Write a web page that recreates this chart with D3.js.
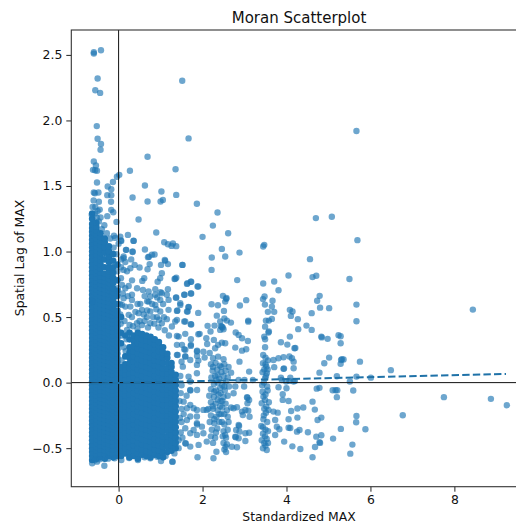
<!DOCTYPE html>
<html><head><meta charset="utf-8">
<script src="https://cdn.jsdelivr.net/npm/d3@7"></script>
<style>html,body{margin:0;padding:0;background:#fff;overflow:hidden}svg{display:block}text{font-family:"DejaVu Sans",sans-serif;fill:#111}</style>
</head><body><svg id="c" width="516" height="525"></svg>
<script>
const titleText="Moran Scatterplot", xLabel="Standardized MAX", yLabel="Spatial Lag of MAX";
const xTicks=[0,2,4,6,8], yTicks=[-0.5,0,0.5,1,1.5,2,2.5];
const regression=[[-0.65,-0.007],[9.23,0.066]];
// Individually readable points (standardized value, spatial lag)
const upperPoints=[[-.59,2.52],[-.59,2.51],[-.42,2.535],[-.5,2.32],[-.555,2.23],[-.44,2.21],[-.52,1.957],[-.5,1.86],[-.42,1.82],[-.43,1.776],[-.59,1.687],[-.54,1.656],[-.61,1.623],[-.515,1.616],[-.56,1.62],[-.515,1.527],[-.59,1.45],[-.48,1.45],[-.565,1.445],[-.595,1.39],[-.47,1.38],[-.555,1.34],[-.45,1.32],[-.5,1.31],[-.175,1.476],[-.26,1.496],[-.135,1.53],[-.04,1.57],[.016,1.585],[-.27,1.43],[-.175,1.43],[-.18,1.38],[-.175,1.318],[-.127,1.3],[-.27,1.27],[-.05,1.226],[.27,1.616],[.627,1.504],[.69,1.723],[.333,1.412],[.69,1.382],[1.02,1.458],[1,1.382],[1.055,1.394],[1.357,1.628],[1.373,1.432],[1.865,1.364],[1.516,2.303],[1.667,1.863],[2.357,1.298],[2.246,1.198],[2.61,1.14],[2,1.112],[.476,1.244],[.897,1.145],[.222,1.127],[.04,1.114],[-.08,1.104],[.063,1.081],[.357,1.081],[.175,1.013],[.333,.997],[.627,1.015],[1.087,1.071],[1.175,1.056],[1.294,1.061],[1.262,1.043],[1.373,1.041],[.857,.977],[.794,.975],[.722,.96],[2.46,1.02],[2.54,.962],[2.22,.954],[2.88,.992],[1.1,.936],[.119,.962],[.06,.94],[5.667,1.919],[4.7,1.255],[5.08,1.265],[5.69,1.087],[3.47,1.051],[3.445,1.038],[4.56,.942]];
const midPoints=[[1.524,.898],[2.215,.86],[1.333,.79],[1.374,.8],[1.63,.753],[1.73,.769],[1.897,.733],[2.826,.782],[3.445,.756],[3.707,.771],[4.048,.817],[3.81,.705],[1.564,.67],[1.73,.68],[1.366,.647],[1.469,.606],[1.667,.578],[1.39,.547],[1.4,.55],[1.63,.542],[1.897,.532],[2.486,.662],[2.564,.639],[2.57,.645],[2.54,.618],[2.215,.598],[2.366,.59],[2.89,.588],[3.04,.629],[2.51,.547],[2.34,.511],[2.52,.49],[2.42,.466],[2.58,.473],[2.676,.458],[2.12,.433],[2.286,.435],[2.46,.427],[2.48,.42],[2.44,.43],[3.088,.473],[3.09,.465],[3.44,.637],[3.477,.657],[3.486,.595],[3.667,.624],[3.652,.58],[3.557,.54],[3.707,.54],[4.08,.555],[4.143,.542],[4.105,.509],[4.27,.484],[3.652,.486],[3.58,.473],[3.51,.473],[3.49,.427],[4.62,.805],[4.71,.815],[5.5,.79],[4.79,.662],[4.73,.624],[4.8,.572],[5.016,.568],[5.667,.595],[4.6,.53],[4.476,.435],[4.6,.402],[4.28,.408],[3.57,.382],[3.58,.39],[3.49,.331],[3.47,.35],[4.08,.351],[3.867,.308],[4.02,.29],[3.49,.27],[4.19,.262],[4.21,.264],[4.83,.351],[4.84,.345],[4.98,.334],[5.24,.362],[5.29,.354],[5.29,.3],[5.667,.468]];
const lowerRightPoints=[[3.445,.211],[3.69,.173],[3.81,.186],[3.93,.193],[4.07,.199],[4.13,.186],[4.17,.16],[4.17,.11],[3.93,.105],[3.94,.108],[3.707,.118],[3.52,.122],[3.44,.148],[3.53,.072],[3.49,.034],[4.9,.148],[5.016,.191],[5.3,.173],[5.32,.178],[5.36,.176],[5.29,.143],[5.75,.16],[4.786,.076],[6.486,.095],[5.2,.049],[5.667,.046],[6.01,.038],[5.51,.008],[3.867,.038],[3.89,.02],[4.09,.038],[4.07,.013],[4.17,.008],[4.2,.013],[3.99,.008],[4,-.043],[3.81,-.035],[3.91,-.089],[3.91,-.132],[4.05,-.14],[4.72,-.046],[4.786,-.04],[5.1,-.058],[5.17,-.058],[5.21,-.058],[5.59,-.06],[5.2,-.111],[4.62,-.145],[4.675,-.206],[4.4,-.19],[4.26,-.198],[4.11,-.216],[4.26,-.267],[4.05,-.28],[4.83,-.267],[4.74,-.285],[5.667,-.254],[5.66,-.302],[5.295,-.353],[5.88,-.356],[6.77,-.249],[7.75,-.111],[8.44,.557],[8.87,-.124],[9.25,-.173],[4.31,-.361],[4.25,-.374],[4.05,-.344],[4.09,-.346],[4.51,-.379],[4.71,-.412],[4.83,-.402],[5.11,-.427],[4.786,-.455],[4.8,-.46],[4.68,-.491],[5.57,-.473],[5.52,-.542],[4.62,-.569],[3.945,-.45],[4.14,-.486],[4.33,-.506],[3.73,-.4],[3.77,-.336],[3.83,-.356],[3.73,-.285],[3.79,-.229],[3.69,-.221],[3.57,-.208],[3.52,-.183],[3.53,-.514],[3.44,-.501],[3.45,-.107],[3.49,-.132],[3.41,-.157],[3.45,-.28],[3.54,-.3],[3.4,-.33],[3.5,-.36],[3.56,-.37],[3.44,-.39],[3.53,-.43],[3.41,-.44],[3.47,-.46],[3.46,-.25],[3.55,-.06],[3.42,-.02],[3.5,-.09],[3.58,-.15],[3.43,.08],[3.56,.17],[3.5,.19],[3.47,.1],[3.51,.05],[3.46,0],[3.54,-.03],[3.47,-.2],[3.51,-.23],[3.44,-.34],[3.49,-.41],[3.56,-.46],[3.5,-.48],[3.43,-.07],[3.55,.1],[3.5,.14]];
const columnPoints=[[2.19,.39],[2.09,.339],[2.11,.295],[2.27,.326],[2.42,.402],[2.5,.407],[2.54,.3],[2.46,.305],[2.37,.288],[2.3,.262],[2.17,.226],[2.02,.236],[1.87,.244],[2.05,.191],[1.87,.204],[1.9,.168],[2.25,.186],[2.37,.198],[2.5,.179],[2.88,.16],[2.78,.267],[2.94,.244],[3.04,.255],[2.94,.339],[3.08,.318],[2.79,.382],[2.86,.364],[2.68,.076],[3.11,.084],[2.2,.14],[2.31,.15],[2.41,.13],[2.52,.14],[2.62,.12],[2.24,.09],[2.35,.1],[2.45,.08],[2.55,.09],[2.21,.04],[2.3,.05],[2.4,.03],[2.5,.05],[2.6,.04],[2.27,-.01],[2.36,0],[2.47,-.02],[2.56,.01],[2.2,-.05],[2.32,-.06],[2.42,-.04],[2.53,-.06],[2.63,-.03],[2.16,-.1],[2.27,-.11],[2.38,-.09],[2.5,-.11],[2.6,-.1],[2.2,-.15],[2.31,-.16],[2.43,-.14],[2.55,-.16],[2.14,-.2],[2.25,-.2],[2.36,-.21],[2.47,-.19],[2.58,-.21],[2.68,-.19],[2.2,-.25],[2.33,-.26],[2.45,-.24],[2.6,-.26],[2.17,-.3],[2.28,-.31],[2.4,-.3],[2.52,-.32],[2.62,-.3],[2.22,-.36],[2.35,-.35],[2.5,-.37],[2.6,-.36],[2.2,-.41],[2.3,-.42],[2.48,-.41],[2.56,-.42],[2.25,-.46],[2.5,-.46],[2.58,-.47],[2.52,-.51],[2.56,-.53],[2.74,-.081],[2.78,-.03],[2.86,.02],[3,.02],[3.2,.02],[2.99,-.03],[3.06,-.111],[3.07,-.115],[3.11,-.132],[3.07,-.157],[2.74,-.195],[2.82,-.188],[2.94,-.221],[3.02,-.208],[3.09,-.214],[3.12,-.26],[2.96,-.247],[2.86,-.323],[2.87,-.33],[2.8,-.361],[2.88,-.374],[3.02,-.386],[3.11,-.382],[2.78,-.412],[2.79,-.417],[2.86,-.424],[3.02,-.445],[2.7,-.489],[2.82,-.493],[2.26,-.577],[1.88,-.569],[2.33,-.527],[1.286,-.603],[1.706,-.056],[1.71,-.06],[1.87,-.056],[1.55,-.145],[1.707,-.17],[1.787,-.196],[1.628,-.196],[1.866,-.208],[2.02,-.208],[2.1,-.208],[1.707,-.259],[1.866,-.259],[1.628,-.285],[1.866,-.31],[1.87,-.32],[1.985,-.336],[1.588,-.348],[1.787,-.361],[1.707,-.386],[1.866,-.399],[2.02,-.386],[1.588,-.463],[1.6,-.465],[1.707,-.488],[1.906,-.475],[2.1,-.45],[1.588,.372],[1.93,.372],[1.723,.331],[1.723,.288],[1.564,.255],[1.39,.288],[1.406,.211],[1.588,.199],[1.707,.173],[1.866,.135],[1.667,.046],[1.866,.072],[1.707,.008],[1.53,.122],[1.43,.351],[1.73,.443],[1.564,.466],[1.35,.466],[1.5,-.02],[1.48,-.08],[1.55,-.24],[1.5,-.3],[1.48,-.38],[1.52,-.42],[1.5,-.2],[1.47,.05],[1.5,.16],[2.25,.12],[2.36,.06],[2.45,.12],[2.33,.02],[2.43,-.08],[2.28,-.07],[2.52,-.03],[2.36,-.13],[2.47,-.14],[2.24,-.18],[2.4,-.24],[2.52,-.24],[2.28,-.28],[2.46,-.3],[2.32,-.38],[2.54,-.4],[2.55,-.49],[2.42,-.18],[1.62,-.1],[1.45,-.14],[1.46,-.27],[1.43,-.44],[1.43,-.5]];
const clumpPoints=[[.056,1.084],[.358,1.082],[.183,1.013],[.334,1],[.12,.95],[.7,.957],[.74,.904],[.69,.865],[.382,.898],[.5,.878],[.279,.873],[.12,.86],[1.11,.929],[1.175,.904],[1.01,.898],[1.517,.898],[1.03,.835],[.99,.797],[.93,.77],[1.35,.792],[.61,.797],[.564,.776],[.24,.738],[.056,.797],[.08,.746],[1.64,.758],[1.72,.77],[1.88,.733],[1.57,.67],[1.72,.68],[1.374,.65],[.58,.707],[.715,.695],[.874,.713],[1.03,.682],[1.175,.713],[.755,.657],[.874,.67],[1.15,.67],[.318,.67],[.12,.644],[.318,.631],[.08,.593],[.517,.601],[.715,.618],[.874,.593],[.993,.631],[1.19,.631],[1.47,.593],[1.667,.575],[1.644,.542],[.556,.555],[.755,.542],[.993,.542],[1.19,.555],[.24,.517],[.477,.53],[.318,.5],[.675,.5],[.913,.5],[1.15,.484],[1.39,.479],[1.588,.466],[1.72,.446],[.437,.453],[.755,.453],[1.03,.453],[1.27,.428],[.2,.402],[.556,.44],[1.9,.369],[1.39,.356],[1.72,.28],[1.51,.288],[1.866,.237],[1.59,.25],[1.39,.212],[1.59,.2],[.62,.47],[.85,.45],[.95,.42],[.7,.42],[.45,.41],[.34,.43],[1.1,.4],[1.2,.36],[.05,.45],[.08,.36],[.12,.27],[.19,.33],[.17,.24],[.07,.17],[.03,.6],[-.02,.72],[-.03,.85],[-.05,.98],[-.12,1.03],[-.2,1.1],[-.28,1.14],[-.34,1.2],[-.43,1.26],[-.62,.62],[-.62,1.34],[-.64,1.28],[-.56,1.29],[-.52,1.26],[-.47,1.23],[-.4,1.17],[-.11,1.12],[.0,1.06],[-.63,-.615],[-.515,-.603],[-.34,-.634],[-.095,-.577],[.064,-.59],[.46,-.59],[.755,-.577],[1.01,-.598],[1.28,-.603],[-.56,-.59],[-.45,-.585],[-.25,-.58],[.25,-.575],[.62,-.57],[.92,-.565],[1.12,-.56],[1.33,-.54],[.62,.66],[.68,.62],[.8,.6],[.92,.65],[1.06,.6],[.6,.52],[.68,.55],[.82,.5],[.96,.48],[1.08,.5],[.5,.47],[.9,.56],[1.0,.69],[.45,.6],[.16,.58],[.22,.66],[.28,.58],[.4,.54],[.14,.47],[.26,.44],[.16,.72],[.2,.85],[.32,.78],[.44,.72],[.1,.68],[.04,.52],[.06,.88],[.16,.92],[.3,.94]];
// Solid core of the cloud, where single points cannot be told apart: estimated per vertical strip
const coreX=[-.63,-.53,-.43,-.33,-.23,-.13,-.03,.06,.16,.26,.36,.46,.56,.66,.76,.86,.96,1.06,1.16,1.26,1.36];
const coreY=[
[-.59,-.56,-.53,-.5,-.47,-.44,-.41,-.38,-.35,-.32,-.29,-.26,-.23,-.2,-.17,-.14,-.11,-.08,-.05,-.02,.01,.04,.07,.1,.13,.16,.19,.22,.25,.28,.31,.34,.37,.4,.43,.46,.49,.52,.55,.58,.61,.64,.67,.7,.73,.76,.79,.82,.85,.88,.91,.94,.97,1,1.03,1.06,1.09,1.12,1.15,1.18,1.21,1.25,1.29],
[-.58,-.55,-.52,-.49,-.46,-.43,-.4,-.37,-.34,-.31,-.28,-.25,-.22,-.19,-.16,-.13,-.1,-.07,-.04,-.01,.02,.05,.08,.11,.14,.17,.2,.23,.26,.29,.32,.35,.38,.41,.44,.47,.5,.53,.56,.59,.62,.65,.68,.71,.74,.77,.8,.83,.86,.89,.92,.95,.98,1.01,1.04,1.07,1.1,1.13,1.16,1.19,1.22],
[-.57,-.54,-.51,-.48,-.45,-.42,-.39,-.36,-.33,-.3,-.27,-.24,-.21,-.18,-.15,-.12,-.09,-.06,-.03,0,.03,.06,.09,.12,.15,.18,.21,.24,.27,.3,.33,.36,.39,.42,.45,.48,.51,.54,.57,.6,.63,.66,.69,.72,.75,.78,.81,.84,.87,.9,.93,.96,.99,1.02,1.05,1.08,1.11,1.14],
[-.58,-.55,-.52,-.49,-.46,-.43,-.4,-.37,-.34,-.31,-.28,-.25,-.22,-.19,-.16,-.13,-.1,-.07,-.04,-.01,.02,.05,.08,.11,.14,.17,.2,.23,.26,.29,.32,.35,.38,.41,.44,.47,.5,.53,.56,.59,.62,.65,.68,.71,.74,.77,.8,.83,.88,.94,.99,1.03,1.07,1.1],
[-.56,-.53,-.5,-.47,-.44,-.41,-.38,-.35,-.32,-.29,-.26,-.23,-.2,-.17,-.14,-.11,-.08,-.05,-.02,.01,.04,.07,.1,.13,.16,.19,.22,.25,.28,.31,.34,.37,.4,.43,.46,.49,.52,.55,.58,.61,.64,.67,.7,.73,.76,.79,.82,.85,.88,.92,.96,1,1.04],
[-.57,-.54,-.51,-.48,-.45,-.42,-.39,-.36,-.33,-.3,-.27,-.24,-.21,-.18,-.15,-.12,-.09,-.06,-.03,0,.03,.06,.09,.12,.15,.18,.21,.24,.27,.3,.33,.36,.39,.42,.45,.48,.51,.54,.57,.6,.63,.66,.69,.72,.76,.8,.84,.88,.93,.98],
[-.56,-.53,-.5,-.47,-.44,-.41,-.38,-.35,-.32,-.29,-.26,-.23,-.2,-.17,-.14,-.11,-.08,-.05,-.02,.01,.04,.07,.1,.13,.16,.19,.22,.25,.28,.31,.34,.37,.4,.43,.46,.49,.52,.55,.6,.66,.7,.78,.9],
[-.56,-.52,-.48,-.44,-.4,-.36,-.32,-.28,-.24,-.2,-.16,-.12,-.08,-.04,0,.04,.08,.12,.3,.38,.5],
[-.54,-.5,-.46,-.42,-.38,-.34,-.3,-.26,-.22,-.18,-.14,-.1,-.06,-.02,.02,.06,.1,.14,.2,.36],
[-.57,-.53,-.49,-.45,-.41,-.37,-.33,-.29,-.25,-.21,-.17,-.13,-.09,-.05,-.01,.03,.07,.11,.15,.19,.23,.27,.33,.38],
[-.56,-.52,-.48,-.44,-.4,-.36,-.32,-.28,-.24,-.2,-.16,-.12,-.08,-.04,0,.04,.08,.12,.16,.2,.24,.28,.32,.36],
[-.58,-.54,-.5,-.46,-.42,-.38,-.34,-.3,-.26,-.22,-.18,-.14,-.1,-.06,-.02,.02,.06,.1,.14,.18,.22,.26,.3,.34,.38],
[-.55,-.51,-.47,-.43,-.39,-.35,-.31,-.27,-.23,-.19,-.15,-.11,-.07,-.03,.01,.05,.09,.13,.17,.21,.25,.29,.33,.37],
[-.56,-.52,-.48,-.44,-.4,-.36,-.32,-.28,-.24,-.2,-.16,-.12,-.08,-.04,0,.04,.08,.12,.16,.2,.24,.28,.32,.36],
[-.57,-.53,-.49,-.45,-.41,-.37,-.33,-.29,-.25,-.21,-.17,-.13,-.09,-.05,-.01,.03,.07,.11,.15,.19,.23,.27,.31,.35],
[-.55,-.51,-.47,-.43,-.39,-.35,-.31,-.27,-.23,-.19,-.15,-.11,-.07,-.03,.01,.05,.09,.13,.17,.21,.25,.29,.33],
[-.56,-.52,-.48,-.44,-.4,-.36,-.32,-.28,-.24,-.2,-.16,-.12,-.08,-.04,0,.04,.08,.12,.16,.2,.24,.28,.31],
[-.57,-.53,-.49,-.45,-.41,-.37,-.33,-.29,-.25,-.21,-.17,-.13,-.09,-.05,-.01,.03,.07,.11,.15,.19,.23,.27],
[-.53,-.49,-.45,-.41,-.37,-.33,-.29,-.25,-.21,-.17,-.13,-.09,-.05,-.01,.03,.07,.11,.15,.19,.22],
[-.52,-.48,-.44,-.4,-.36,-.32,-.28,-.24,-.2,-.16,-.12,-.08,-.04,0,.04,.08,.12,.15],
[-.5,-.46,-.42,-.38,-.34,-.3,-.26,-.22,-.18,-.14,-.1,-.06,-.02,.02,.06]
];
const W=516,H=525,pL=71.3,pR=527,pT=30,pB=486.7;
const x=d3.scaleLinear().domain([-1.127,9.73]).range([pL,pR]);
const y=d3.scaleLinear().domain([-0.794,2.69]).range([pB,pT]);
const svg=d3.select("#c");
svg.append("rect").attr("width",W).attr("height",H).attr("fill","#fff");
const core=coreX.flatMap((cx,i)=>coreY[i].map(v=>[cx,v]));
const sparse=[...upperPoints,...midPoints,...lowerRightPoints,...columnPoints,...clumpPoints];
const dots=svg.append("g");
dots.append("g").selectAll("circle").data(core).join("circle")
 .attr("cx",d=>x(d[0])).attr("cy",d=>y(d[1])).attr("r",3.3).attr("fill","#1f77b4");
dots.append("g").selectAll("circle").data(sparse).join("circle")
 .attr("cx",d=>x(d[0])).attr("cy",d=>y(d[1])).attr("r",3.2).attr("fill","#1f77b4").attr("opacity",0.65);
const ink="#222";
svg.append("line").attr("x1",pL).attr("x2",pR).attr("y1",y(0)).attr("y2",y(0)).attr("stroke","#111").attr("stroke-width",1);
svg.append("line").attr("x1",x(0)).attr("x2",x(0)).attr("y1",pT).attr("y2",pB).attr("stroke","#111").attr("stroke-width",1);
svg.append("path").datum(regression).attr("fill","none").attr("stroke","#1f72a8").attr("stroke-width",2).attr("stroke-dasharray","7.4 3.2")
 .attr("d",d3.line().x(d=>x(d[0])).y(d=>y(d[1])));
const fmt=v=>(v<0?"\u2212":"")+Math.abs(v).toFixed(1);
const gx=svg.append("g").attr("transform",`translate(0,${pB})`).call(d3.axisBottom(x).tickValues(xTicks).tickSize(5).tickPadding(4).tickFormat(d3.format("d")));
const gy=svg.append("g").attr("transform",`translate(${pL},0)`).call(d3.axisLeft(y).tickValues(yTicks).tickSize(5).tickPadding(4).tickFormat(fmt));
[gx,gy].forEach(g=>{g.select(".domain").remove();g.selectAll("line").attr("stroke",ink).attr("stroke-width",1);g.selectAll("text").attr("font-size",12.4).attr("font-family",'"DejaVu Sans",sans-serif').attr("fill","#111");});
svg.append("rect").attr("x",pL).attr("y",pT).attr("width",pR-pL).attr("height",pB-pT).attr("fill","none").attr("stroke","#333").attr("stroke-width",1.1);
svg.append("text").attr("x",299).attr("y",23).attr("text-anchor","middle").attr("font-size",15).text(titleText);
svg.append("text").attr("x",299).attr("y",521).attr("text-anchor","middle").attr("font-size",12.4).text(xLabel);
svg.append("text").attr("transform","translate(24,258) rotate(-90)").attr("text-anchor","middle").attr("font-size",12.4).text(yLabel);
</script></body></html>
